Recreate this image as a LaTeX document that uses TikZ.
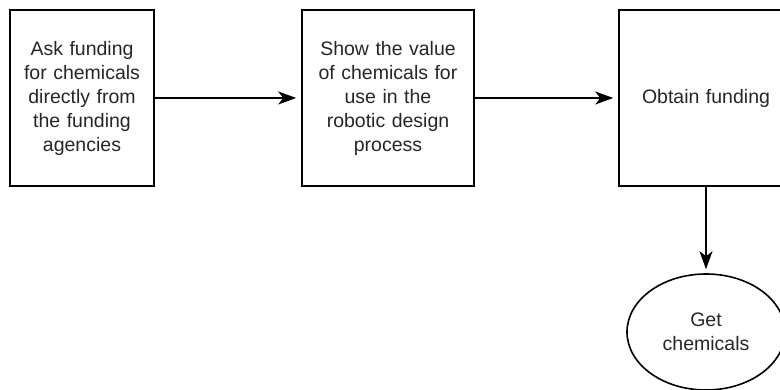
\documentclass[tikz,border=0pt]{standalone}
\usepackage{fontspec}
\setmainfont{Liberation Sans}
\usetikzlibrary{arrows.meta,shapes.geometric}
\begin{document}
\begin{tikzpicture}[x=1pt,y=-1pt,
  every node/.style={font=\fontsize{19.5}{24}\selectfont, text=black!85},
  stepbox/.style={draw, line width=1.6pt, minimum height=176pt, align=center, inner sep=0pt},
  goal/.style={draw, ellipse, line width=1.6pt, minimum width=158pt, minimum height=116pt, align=center, inner sep=0pt},
  flow/.style={line width=1.6pt, -{Stealth[length=18pt,width=13pt,inset=5pt]}, shorten >=5pt}]
  \useasboundingbox (0,0) rectangle (780,390);
  \clip (0,0) rectangle (780,390);
  \node[stepbox, minimum width=144pt, text width=130pt] (ask) at (82,98)
    {Ask funding\\for chemicals\\directly from\\the funding\\agencies};
  \node[stepbox, minimum width=172pt, text width=160pt] (show) at (388,98)
    {Show the value\\of chemicals for\\use in the\\robotic design\\process};
  \node[stepbox, minimum width=174pt, text width=160pt] (obtain) at (706,98)
    {Obtain funding};
  \node[goal] (get) at (706,332) {Get\\chemicals};
  \draw[flow] (ask.east) -- (show.west);
  \draw[flow] (show.east) -- (obtain.west);
  \draw[flow, shorten >=4pt] (obtain.south) -- (get.north);
\end{tikzpicture}
\end{document}
